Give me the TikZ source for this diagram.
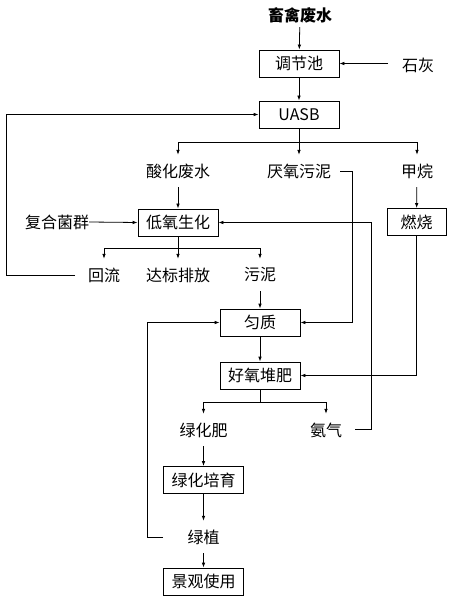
\documentclass[tikz,border=0pt]{standalone}
\usepackage{fontspec}
\setmainfont{Noto Sans CJK SC}
\usetikzlibrary{arrows.meta}
\begin{document}
\begin{tikzpicture}[x=1pt,y=-1pt,
  txt/.style={font=\fontsize{16}{16}\selectfont},
  box/.style={txt,draw,line width=0.8pt,minimum width=80pt,minimum height=27pt,inner sep=0pt},
  lbl/.style={txt,inner sep=0pt,minimum height=32pt},
  ln/.style={line width=0.8pt},
  arr/.style={ln,-{Latex[length=5pt,width=3.6pt]}}]
\useasboundingbox (0,0) rectangle (450,601);
% nodes
\node[lbl,minimum height=24pt,font=\fontsize{16}{16}\selectfont\bfseries] (src) at (300,15) {畜禽废水};
\node[box] (tjc) at (299,63.5) {调节池};
\node[lbl] (sh) at (418,65) {石灰};
\node[box] (uasb) at (299,114.5) {UASB};
\node[lbl] (shfs) at (178,171) {酸化废水};
\node[lbl] (yywn) at (299,171) {厌氧污泥};
\node[lbl] (jw) at (417,171) {甲烷};
\node[box] (dy) at (178,222.5) {低氧生化};
\node[box,minimum width=59pt] (rs) at (416.5,222) {燃烧};
\node[lbl] (fh) at (57,222) {复合菌群};
\node[lbl] (hl) at (104,275) {回流};
\node[lbl] (dbpf) at (178,275) {达标排放};
\node[lbl] (wn) at (260,275) {污泥};
\node[box] (yz) at (260,322.5) {匀质};
\node[box] (hy) at (260,375.5) {好氧堆肥};
\node[lbl] (lhf) at (203.5,430) {绿化肥};
\node[lbl] (aq) at (326,430) {氨气};
\node[box] (lhpy) at (203.5,480) {绿化培育};
\node[lbl] (lz) at (203.5,537) {绿植};
\node[box] (jg) at (203.5,581.5) {景观使用};
% helper coordinates
\coordinate (shL) at (388,63.5);
\coordinate (b1) at (299,142);
\coordinate (b2) at (178,248);
\coordinate (b3) at (260,402);
\coordinate (hlE) at (75,275);
\coordinate (railL) at (6,114.5);
\coordinate (yywnE) at (340,171);
\coordinate (r1) at (352,171);
\coordinate (aqE) at (355,429);
\coordinate (r2) at (371,429);
\coordinate (lzW) at (163,537);
\coordinate (l2) at (147,537);
% connectors
\draw[arr] (src) -- (tjc);
\draw[arr] (shL) -- (tjc.east);
\draw[arr] (tjc) -- (uasb);
\draw[ln] (uasb.south) -- (b1);
\draw[arr] (b1) -| (shfs.north);
\draw[arr] (b1) -- (yywn.north);
\draw[arr] (b1) -| (jw.north);
\draw[arr] (shfs) -- (dy);
\draw[arr] (fh.east) -- (dy.west);
\draw[arr] (jw) -- (rs);
\draw[ln] (dy.south) -- (b2);
\draw[arr] (b2) -| (hl.north);
\draw[arr] (b2) -- (dbpf.north);
\draw[arr] (b2) -| (wn.north);
\draw[arr] (hlE) -| (railL) -- (uasb.west);
\draw[arr] (wn.south) -- (yz.north);
\draw[arr] (yywnE) -- (r1) |- (yz.east);
\draw[arr] (yz) -- (hy);
\draw[arr] (rs.south) |- (hy.east);
\draw[ln] (hy.south) -- (b3);
\draw[arr] (b3) -| (lhf.north);
\draw[arr] (b3) -| (aq.north);
\draw[arr] (aqE) -- (r2) |- (dy.east);
\draw[arr] (lhf.south) -- (lhpy.north);
\draw[arr] (lhpy) -- (lz);
\draw[arr] (lz) -- (jg);
\draw[arr] (lzW) -- (l2) |- (yz.west);
\end{tikzpicture}
\end{document}
